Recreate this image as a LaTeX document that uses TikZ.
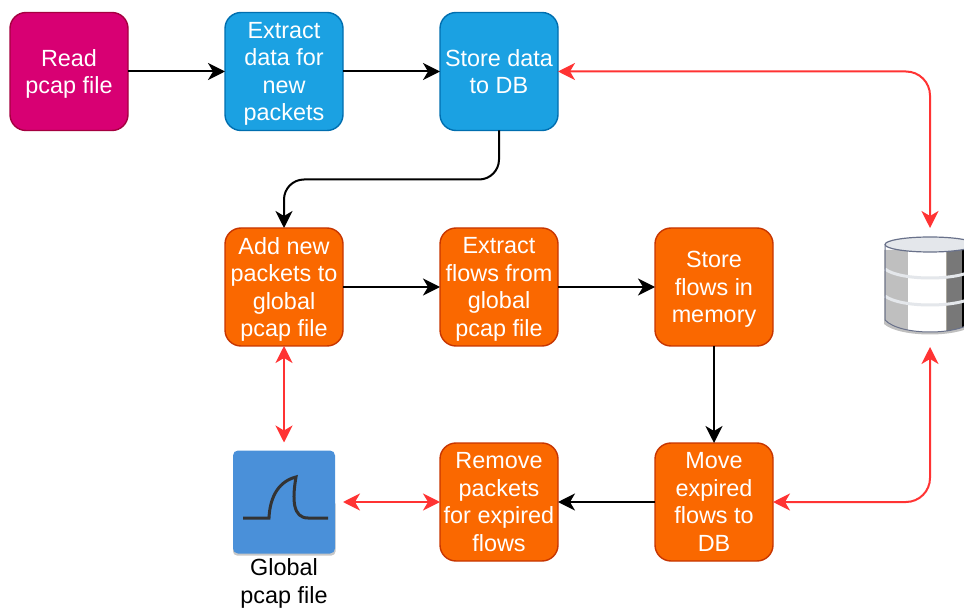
\documentclass[tikz,border=0pt]{standalone}
\usepackage{fontspec}
\setmainfont{Liberation Sans}
\usepackage{tikz}
\usetikzlibrary{arrows.meta}
\usetikzlibrary{positioning}
\definecolor{readfill}{HTML}{D80073}
\definecolor{readline}{HTML}{A50040}
\definecolor{storefill}{HTML}{1BA1E2}
\definecolor{storeline}{HTML}{006EAF}
\definecolor{flowfill}{HTML}{FA6800}
\definecolor{flowline}{HTML}{C73500}
\definecolor{linkred}{HTML}{FF3333}
\definecolor{iconfill}{HTML}{4A90D9}
\definecolor{dbedge}{HTML}{69718A}
\definecolor{dbband}{HTML}{E4E7EB}
\pgfdeclarehorizontalshading{dbmetal}{100bp}{
	color(25bp)=(dbedge!80!white);
	color(33bp)=(dbedge!65!white);
	color(39bp)=(dbedge!10!white);
	color(46bp)=(white!97!black);
	color(55bp)=(white!95!black);
	color(62bp)=(dbedge!60!white);
	color(75bp)=(dbedge!90!white)
}
\tikzset{
	box/.style={rectangle,rounded corners=16pt,line width=1.4pt,minimum width=118pt,minimum height=118pt,inner sep=0pt,outer sep=0pt,align=center,text=white,text depth=0pt,font=\fontsize{23.4}{27.4}\selectfont},
	readbox/.style={box,fill=readfill,draw=readline},
	storebox/.style={box,fill=storefill,draw=storeline},
	flowbox/.style={box,fill=flowfill,draw=flowline},
	flow/.style={line width=2pt,-{Stealth[length=17pt,width=17pt,inset=5pt]},rounded corners=20pt},
	link/.style={line width=2pt,linkred,{Stealth[length=17pt,width=17pt,inset=5pt]}-{Stealth[length=17pt,width=17pt,inset=5pt]},rounded corners=24pt},
}
\begin{document}
\begin{tikzpicture}[x=1pt,y=-1pt]
	\useasboundingbox (0,0) rectangle (964,612);
	% first row
	\node[readbox] (read) at (69,71.5) {Read\\pcap file};
	\node[storebox,right=97pt of read] (extract) {Extract\\data for\\new\\packets};
	\node[storebox,right=97pt of extract] (store) {Store data\\to DB};
	% second row
	\node[flowbox] (add) at (284,287) {Add new\\packets to\\global\\pcap file};
	\node[flowbox,right=97pt of add] (flows) {Extract\\flows from\\global\\pcap file};
	\node[flowbox,right=97pt of flows] (memory) {Store\\flows in\\memory};
	% third row
	\node[flowbox] (remove) at (499,502) {Remove\\packets\\for expired\\flows};
	\node[flowbox,right=97pt of remove] (expired) {Move\\expired\\flows to\\DB};
	
	% global pcap icon
	\fill[black!22,rounded corners=4pt] (233,500) rectangle (335.5,555.5);
	\node[rectangle,rounded corners=5pt,fill=iconfill,minimum width=102pt,minimum height=103pt,inner sep=0pt,outer sep=8pt] (pcap) at (284,502) {};
	\draw[line width=3pt,black!80] (243,518) -- (269,518) .. controls (270,495) and (280,481) .. (296,477) .. controls (292,500) and (293,518) .. (308,518) -- (328,518);
	\node[below=-6pt of pcap,align=center,font=\fontsize{23.4}{27.4}\selectfont] (caption) {Global\\pcap file};
	
	% database icon
	\begin{scope}
		\clip (880,230) rectangle (964,340);
		\fill[black!25] (884,250) -- (884,324) .. controls (900,338) and (960,338) .. (975,324) -- (975,250) -- cycle;
		\shade[shading=dbmetal] (885,245) -- (885,320) .. controls (900,336) and (960,336) .. (975,320) -- (975,245) -- cycle;
		\draw[line width=3pt,dbband] (885,269) .. controls (900,281) and (960,281) .. (975,269);
		\draw[line width=3pt,dbband] (885,296) .. controls (900,308) and (960,308) .. (975,296);
		\draw[line width=1.2pt,dbedge,fill=dbband] (930,244.5) ellipse (45pt and 7.5pt);
		\draw[line width=1pt,dbedge] (885,245) -- (885,320) .. controls (900,336) and (960,336) .. (975,320);
	\end{scope}
	\coordinate (dbtop) at (930,228);
	\coordinate (dbbottom) at (930,347);
	
	% black connectors
	\foreach \From/\To in {read/extract,extract/store,add/flows,flows/memory,memory/expired,expired/remove}
		\draw[flow] (\From) -- (\To);
	\draw[flow] (store.south) -- ++(0,49) -| (add.north);
	
	% red connectors
	\draw[link] (store.east) -| (dbtop);
	\draw[link] (expired.east) -| (dbbottom);
	\draw[link] (add.south) -- (pcap.north);
	\draw[link] (remove.west) -- (pcap.east);
\end{tikzpicture}
\end{document}
